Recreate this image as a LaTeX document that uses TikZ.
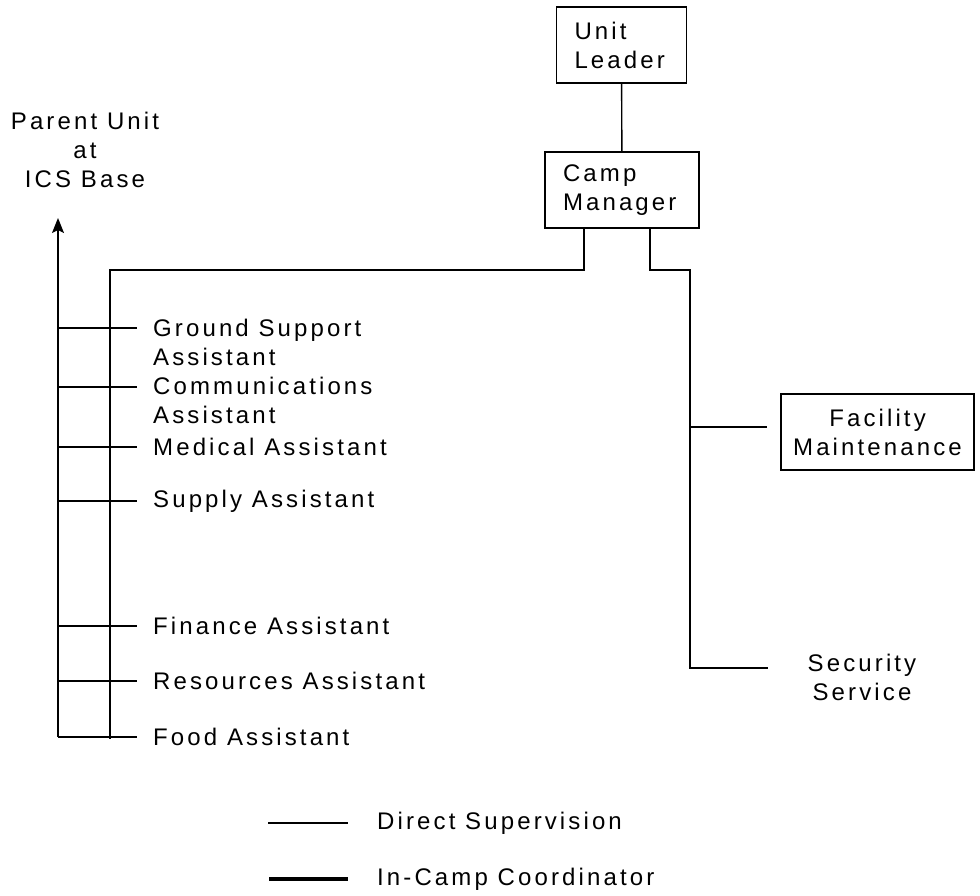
\documentclass[tikz,border=0pt]{standalone}
\usepackage{fontspec}
\setmainfont[LetterSpace=13]{Liberation Sans}
\usetikzlibrary{arrows.meta}
\begin{document}
\begin{tikzpicture}[x=1pt,y=-1pt,
  lbl/.style={inner sep=0pt,font=\fontsize{24}{29}\selectfont,align=left},
  clbl/.style={inner sep=0pt,font=\fontsize{24}{29}\selectfont,align=center},
  box/.style={draw,line width=1.4pt,font=\fontsize{24}{29}\selectfont,align=left,
    minimum height=76pt,inner xsep=18pt,inner ysep=0pt},
  link/.style={line width=1.4pt},
  coord/.style={line width=4pt}]
\useasboundingbox (0,0) rectangle (980,895);

% boxes
\node[box,minimum width=130pt,text width=94pt] (ul) at (621.5,45) {Unit\\Leader};
\node[box,minimum width=154pt,text width=118pt] (cm) at (622,190) {Camp\\Manager};
\node[box,align=center,minimum width=193pt,inner xsep=0pt] (fm) at (877.5,432) {Facility\\Maintenance};

% free labels
\node[clbl] (pu) at (85,150) {Parent Unit\\at\\ICS Base};
\node[clbl] (ss) at (862,677) {Security\\Service};

% assistants
\node[lbl,anchor=west] (a1) at (153,342.5) {Ground Support\\Assistant};
\node[lbl,anchor=west] (a2) at (153,400.5) {Communications\\Assistant};
\node[lbl,anchor=west] (a3) at (153,447) {Medical Assistant};
\node[lbl,anchor=west] (a4) at (153,501) {Supply Assistant};
\node[lbl,anchor=west] (a5) at (153,626) {Finance Assistant};
\node[lbl,anchor=west] (a6) at (153,681) {Resources Assistant};
\node[lbl,anchor=west] (a7) at (153,737) {Food Assistant};

% junction points
\coordinate (jl) at (110,270);
\coordinate (bl) at (110,739);
\coordinate (jr) at (690,270);
\coordinate (br) at (690,668);
\coordinate (up) at (58,218);
\coordinate (b0) at (58,737);
\coordinate (t1) at (58,328);
\coordinate (t2) at (58,387);
\coordinate (t3) at (58,447);
\coordinate (t4) at (58,501);
\coordinate (t5) at (58,626);
\coordinate (t6) at (58,681);
\coordinate (t7) at (58,737);
\coordinate (fj) at (690,427);

% connectors
\draw[link] (ul) -- (cm);
\draw[link] ([xshift=-38pt]cm.south) |- (jl) -- (bl);
\draw[link] ([xshift=28pt]cm.south) |- (jr) -- (br) -- ([xshift=-40pt]br -| ss.west);
\draw[link,shorten >=13pt] (fj) -- (fj -| fm.west);
\draw[link,-{Stealth[length=15pt,width=12pt,inset=3pt]}] (b0) -- (up);
\foreach \i in {1,...,7}
  \draw[link,shorten >=16pt] (t\i) -- (t\i -| a\i.west);

% legend
\coordinate (l1a) at (268,823);
\coordinate (l1b) at (348,823);
\coordinate (l2a) at (269,879);
\coordinate (l2b) at (348,879);
\draw[link] (l1a) -- (l1b);
\draw[coord] (l2a) -- (l2b);
\node[lbl,anchor=west] (ds) at (377,823) {Direct Supervision};
\node[lbl,anchor=west] (ic) at (377,879) {In-Camp Coordinator};
\end{tikzpicture}
\end{document}
